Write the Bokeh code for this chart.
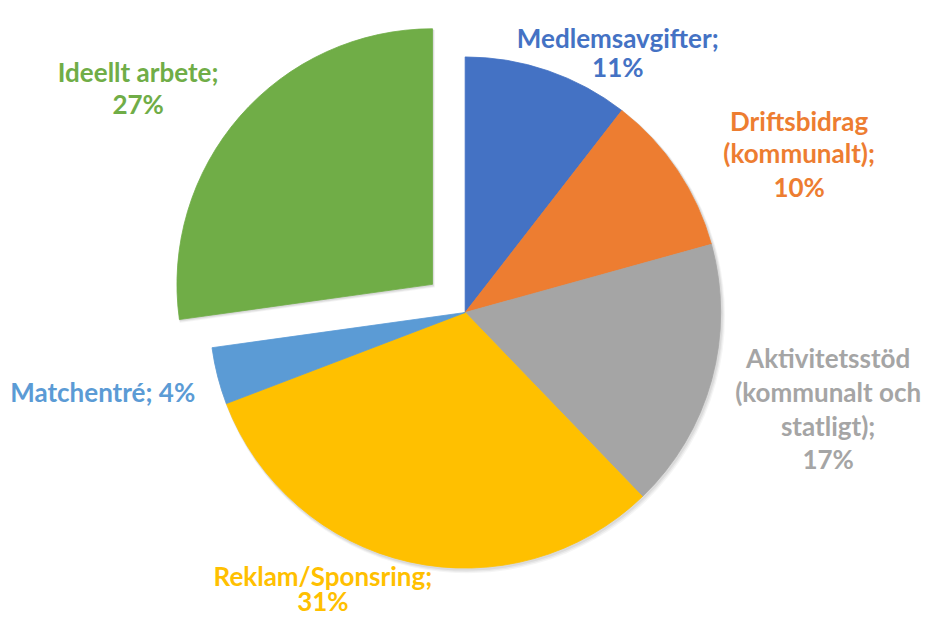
import math
from bokeh.plotting import figure
from bokeh.models import Range1d, ColumnDataSource
from bokeh.core.properties import value
from bokeh.embed import file_html
from bokeh.resources import INLINE

# ---------------- data ----------------
categories = ["Medlemsavgifter", "Driftsbidrag (kommunalt)",
              "Aktivitetsstöd (kommunalt och statligt)", "Reklam/Sponsring",
              "Matchentré", "Ideellt arbete"]
shares = [10.5, 10.2, 17.1, 31.4, 3.6, 27.2]
pct_labels = ["11%", "10%", "17%", "31%", "4%", "27%"]
name_lines = [["Medlemsavgifter"], ["Driftsbidrag", "(kommunalt)"],
              ["Aktivitetsstöd", "(kommunalt och", "statligt)"],
              ["Reklam/Sponsring"], ["Matchentré"], ["Ideellt arbete"]]
exploded = "Ideellt arbete"

# ---------------- style / layout ----------------
colors = ["#4472C4", "#ED7D31", "#A5A5A5", "#FFC000", "#5B9BD5", "#70AD47"]
W, H = 923, 624
REF_W, REF_H = 939, 640
def Y(yimg):
    return REF_H - yimg

cx, cy = 472.7, Y(320)
R = 260
explode_px = 44
# label anchors: (center x, baselines of each line) in reference pixels
label_pos = [
    (628, [38.3, 68.3]),
    (812.5, [123.3, 156.7, 191.7]),
    (842, [366.7, 401.7, 436.7, 470]),
    (328, [590, 616]),
    (104, [401.7]),
    (140, [73.3, 106]),
]
inline_pct = [False, False, False, False, True, False]

p = figure(width=W, height=H, output_backend="svg", toolbar_location=None,
           x_range=Range1d(0, REF_W), y_range=Range1d(0, REF_H),
           min_border=0, background_fill_color="white", border_fill_color="white")
p.axis.visible = False
p.grid.visible = False
p.outline_line_color = None

total = sum(shares)
xs, ys, starts, ends = [], [], [], []
cum = 0.0
for name, s in zip(categories, shares):
    a0 = math.pi / 2 - 2 * math.pi * cum / total
    a1 = math.pi / 2 - 2 * math.pi * (cum + s) / total
    mid = (a0 + a1) / 2
    off = explode_px if name == exploded else 0
    xs.append(cx + off * math.cos(mid))
    ys.append(cy + off * math.sin(mid))
    starts.append(a0)
    ends.append(a1)
    cum += s

src = ColumnDataSource(dict(x=xs, y=ys, start=starts, end=ends, color=colors))

# soft shadow
for k, a in [(4, 0.04), (3, 0.05), (2, 0.06)]:
    sh = ColumnDataSource(dict(x=[v + k * 0.6 for v in xs], y=[v - k * 0.8 for v in ys],
                               start=starts, end=ends))
    p.wedge(x="x", y="y", radius=R + k * 0.5, start_angle="start", end_angle="end",
            direction="clock", source=sh, fill_color="black", fill_alpha=a,
            line_color=None)

p.wedge(x="x", y="y", radius=R, start_angle="start", end_angle="end",
        direction="clock", source=src, fill_color="color", line_color="color",
        line_width=0.8)

# labels
tx, ty, tt, tc = [], [], [], []
for i in range(len(categories)):
    lines = list(name_lines[i])
    lines[-1] = lines[-1] + ";"
    if inline_pct[i]:
        lines[-1] = lines[-1] + " " + pct_labels[i]
    else:
        lines.append(pct_labels[i])
    x0, bases = label_pos[i]
    for ln, b in zip(lines, bases):
        tx.append(x0)
        ty.append(Y(b))
        tt.append(ln)
        tc.append(colors[i])

p.text(x=tx, y=ty, text=tt, text_color=tc, text_align="center",
       text_baseline="alphabetic", text_font=value("Lato"),
       text_font_style="bold", text_font_size="26px")

open("out.html", "w").write(file_html(p, INLINE))
